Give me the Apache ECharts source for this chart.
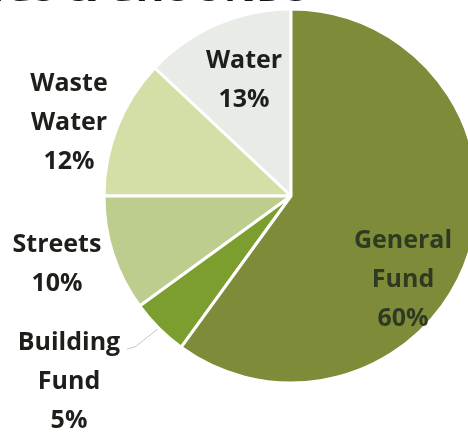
<!DOCTYPE html>
<html>
<head>
<meta charset="utf-8">
<script src="https://cdn.jsdelivr.net/npm/echarts@6/dist/echarts.min.js"></script>
<style>
  html, body { margin: 0; padding: 0; background: #ffffff; }
  #chart { width: 468px; height: 432px; }
</style>
</head>
<body>
<div id="chart"></div>
<script>
// Funding sources for buildings & grounds (percent of total)
const categories = ['Water', 'Waste\nWater', 'Streets', 'Building\nFund', 'General\nFund'];
const shares = [13, 12, 10, 5, 60];
const sliceColors = ['#e9ebe6', '#d4dfa7', '#bccd8e', '#7b9e2e', '#7e8c3a'];

// Where each label's centre sits (chart pixels)
const labelSpots = [
  [244, 80],
  [69, 123],
  [57, 264],
  [69, 382],
  [403, 280]
];

const chart = echarts.init(document.getElementById('chart'), null, { renderer: 'canvas' });

const data = categories.map((name, i) => ({
  name: name,
  value: shares[i],
  itemStyle: { color: sliceColors[i] },
  label: { color: i === 4 ? '#2f3a22' : '#1c1f1a' },
  labelLine: { show: i === 3 }
}));

chart.setOption({
  backgroundColor: '#ffffff',
  animation: false,
  graphic: [{
    type: 'text',
    right: 160,
    top: -30,
    style: {
      text: 'BUILDINGS & GROUNDS',
      font: 'bold 40px "Open Sans"',
      fill: '#141414'
    }
  }],
  series: [{
    type: 'pie',
    center: [291, 196],
    radius: 187,
    startAngle: 90,
    clockwise: false,
    data: data,
    itemStyle: { borderColor: '#ffffff', borderWidth: 3 },
    label: {
      show: true,
      position: 'outside',
      alignTo: 'none',
      overflow: 'none',
      formatter: p => p.name + '\n' + p.value + '%',
      fontFamily: 'Open Sans',
      fontWeight: 'bold',
      fontSize: 25,
      lineHeight: 39,
      align: 'center'
    },
    labelLine: {
      show: false,
      length: 14,
      length2: 6,
      lineStyle: { color: '#c4c7c8', width: 1 }
    },
    labelLayout: params => {
      const i = params.dataIndex;
      const spot = labelSpots[i];
      const out = { x: spot[0], y: spot[1], align: 'center', verticalAlign: 'middle' };
      if (i === 3 && params.labelLinePoints) {
        // leader runs from the slice edge to the right end of the first text line
        const start = params.labelLinePoints[0];
        out.labelLinePoints = [start, [spot[0] + 66, spot[1] - 35], [spot[0] + 58, spot[1] - 33]];
      }
      return out;
    },
    emphasis: { disabled: true }
  }]
});
</script>
</body>
</html>
